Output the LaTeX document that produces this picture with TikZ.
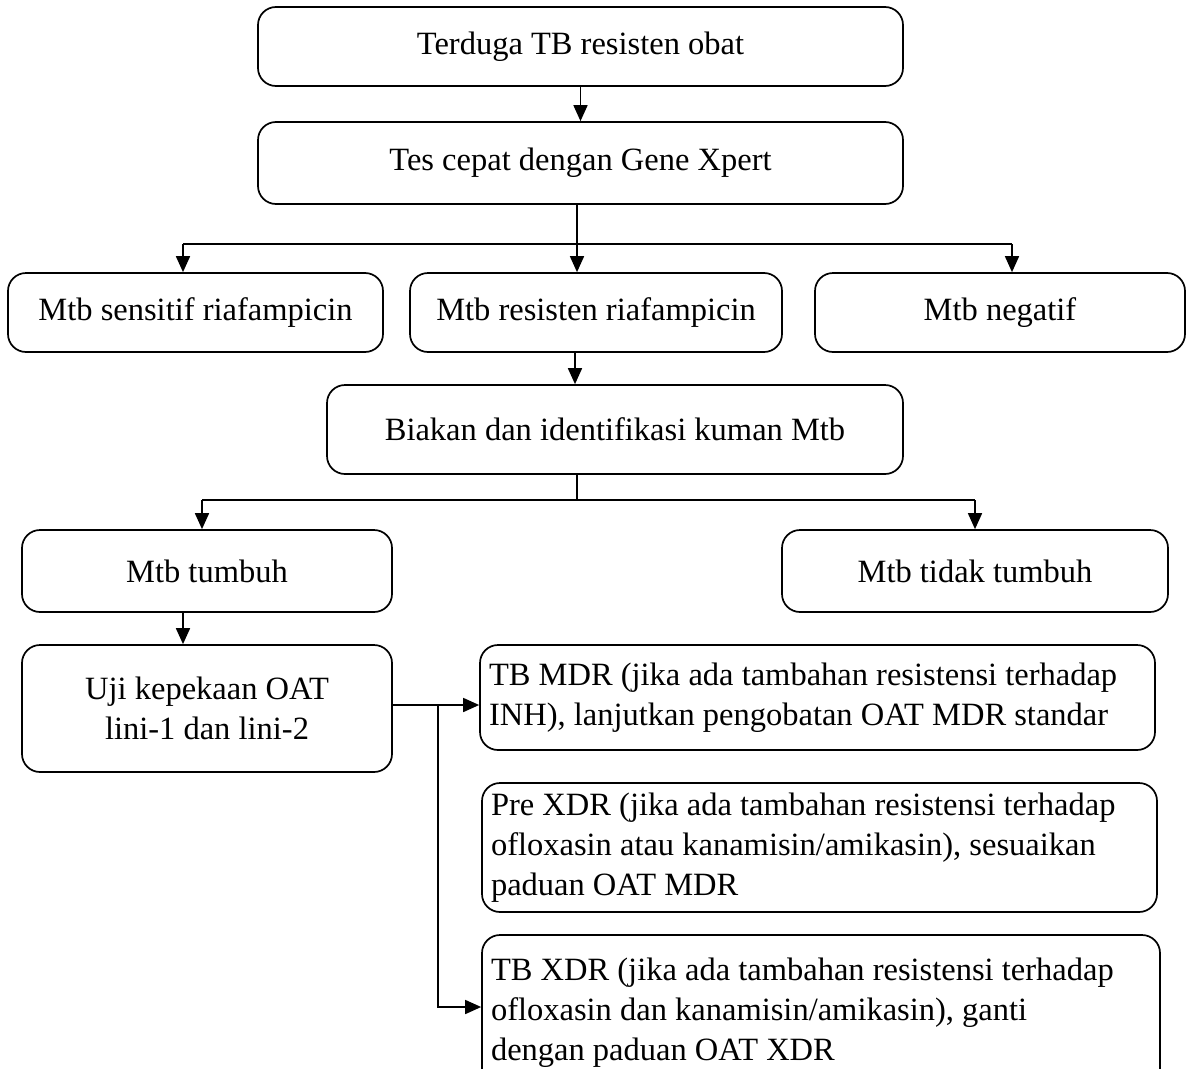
\documentclass[tikz,border=0pt]{standalone}
\usepackage{fontspec}
\setmainfont{Liberation Serif}
\usetikzlibrary{arrows.meta}
\newcommand{\flowfont}{\fontsize{32.5}{40}\selectfont}
\begin{document}
\begin{tikzpicture}[x=1pt,y=-1pt,
  box/.style={draw, line width=1.7pt, rounded corners=18pt, inner sep=0pt,
    font=\flowfont, align=flush center},
  wide/.style={box, align=flush left, inner xsep=9pt, inner ysep=0pt},
  link/.style={line width=1.7pt},
  arr/.style={link, -{Triangle[length=16pt,width=14pt]}}]
\useasboundingbox (0,0) rectangle (1191,1068);

% top of the chart
\node[box, minimum width=645pt, minimum height=79pt] (suspect) at (580.5,46.5) {Terduga TB resisten obat};
\node[box, minimum width=645pt, minimum height=82pt] (xpert) at (580.5,163) {Tes cepat dengan Gene Xpert};

% results of the rapid test
\node[box, minimum width=375pt, minimum height=79pt] (sens) at (195.5,312.5) {Mtb sensitif riafampicin};
\node[box, minimum width=372pt, minimum height=79pt] (res) at (596,312.5) {Mtb resisten riafampicin};
\node[box, minimum width=370pt, minimum height=79pt] (neg) at (1000,312.5) {Mtb negatif};

% culture
\node[box, minimum width=576pt, minimum height=89pt] (culture) at (615,429.5) {Biakan dan identifikasi kuman Mtb};
\node[box, minimum width=370pt, minimum height=82pt] (grow) at (207,571) {Mtb tumbuh};
\node[box, minimum width=386pt, minimum height=82pt] (nogrow) at (975,571) {Mtb tidak tumbuh};

% susceptibility test and outcomes
\node[box, minimum width=370pt, minimum height=127pt] (dst) at (207,708.5) {Uji kepekaan OAT\\lini-1 dan lini-2};
\node[wide, text width=657pt, minimum height=105pt] (mdr) at (817.5,697.5)
  {\raisebox{-3pt}{}TB MDR (jika ada tambahan resistensi terhadap\\INH), lanjutkan pengobatan OAT MDR standar};
\node[wide, text width=657pt, minimum height=129pt] (prexdr) at (819.5,847.5)
  {Pre XDR (jika ada tambahan resistensi terhadap\\ofloxasin atau kanamisin/amikasin), sesuaikan\\paduan OAT MDR};
\node[wide, text width=660pt, minimum height=155pt] (xdr) at (821,1012.5)
  {TB XDR (jika ada tambahan resistensi terhadap\\ofloxasin dan kanamisin/amikasin), ganti\\dengan paduan OAT XDR};

% connectors
\draw[arr] (suspect.south) -- (xpert.north);

\coordinate (split1) at (577,244);
\coordinate (toSens) at (183,244);
\coordinate (toNeg) at (1012,244);
\draw[link] (toSens) -- (toNeg);
\draw[arr] (xpert.south -| split1) -- (split1 |- res.north);
\draw[arr] (toSens) -- (toSens |- sens.north);
\draw[arr] (toNeg) -- (toNeg |- neg.north);

\coordinate (resDown) at (575,352);
\draw[arr] (res.south -| resDown) -- (resDown |- culture.north);

\coordinate (split2) at (577,500);
\coordinate (toGrow) at (202,500);
\coordinate (toNogrow) at (975,500);
\draw[link] (culture.south -| split2) -- (split2);
\draw[link] (toGrow) -- (toNogrow);
\draw[arr] (toGrow) -- (toGrow |- grow.north);
\draw[arr] (toNogrow) -- (toNogrow |- nogrow.north);

\coordinate (growDown) at (183,612);
\draw[arr] (grow.south -| growDown) -- (growDown |- dst.north);

\coordinate (branch) at (438,705);
\coordinate (xdrIn) at (438,1007);
\draw[link] (dst.east |- branch) -- (branch);
\draw[arr] (branch) -- (branch -| mdr.west);
\draw[arr] (branch) -- (xdrIn) -- (xdrIn -| xdr.west);
\end{tikzpicture}
\end{document}
